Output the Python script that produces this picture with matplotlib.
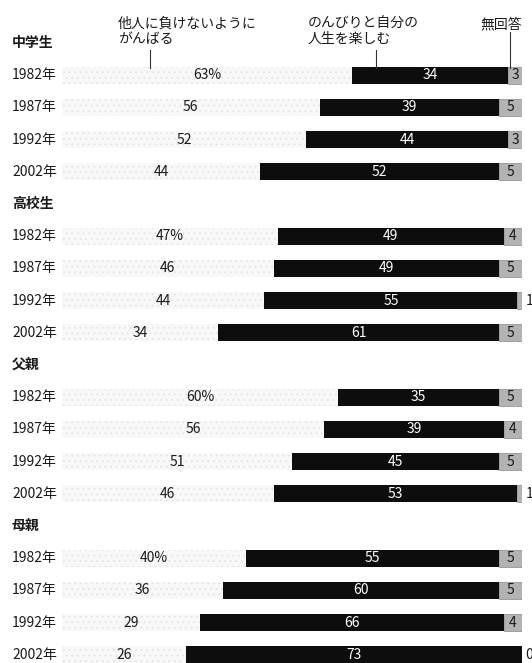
import matplotlib
matplotlib.use("Agg")
import matplotlib.pyplot as plt
import matplotlib.transforms as mtransforms
from matplotlib.lines import Line2D

plt.rcParams['font.family'] = ['Noto Sans CJK JP', 'DejaVu Sans']
plt.rcParams['hatch.linewidth'] = 0.5

groups = ['中学生', '高校生', '父親', '母親']
years = ['1982年', '1987年', '1992年', '2002年']
compete = [[63, 56, 52, 44], [47, 46, 44, 34], [60, 56, 51, 46], [40, 36, 29, 26]]
relax = [[34, 39, 44, 52], [49, 49, 55, 61], [35, 39, 45, 53], [55, 60, 66, 73]]
noans = [[3, 5, 3, 5], [4, 5, 1, 5], [5, 4, 5, 1], [5, 5, 4, 0]]
legend_labels = ['他人に負けないように\nがんばる', 'のんびりと自分の\n人生を楽しむ', '無回答']

W, H = 532, 663
fig = plt.figure(figsize=(W / 100, H / 100), dpi=100)
left_px, right_px = 62, 522
top_row_px, step_px = 43, 32.2
ax = fig.add_axes([left_px / W, 0, (right_px - left_px) / W, 1])
ax.set_xlim(0, 100)
ax.set_ylim((H - top_row_px) / step_px, -top_row_px / step_px)
ax.axis('off')

blend = mtransforms.blended_transform_factory(fig.transFigure, ax.transData)
txt_color = '#1a1a1a'
bar_h = 0.53

for g, gname in enumerate(groups):
    hrow = g * 5
    ax.text(12 / W, hrow, gname, transform=blend, ha='left', va='center',
            fontsize=10, fontweight='bold', color=txt_color)
    for k, yr in enumerate(years):
        row = hrow + 1 + k
        a, b, c = compete[g][k], relax[g][k], noans[g][k]
        ax.text(12 / W, row, yr, transform=blend, ha='left', va='center',
                fontsize=10, color=txt_color)
        wl = 100 - c - b
        ax.barh(row, wl, left=0, height=bar_h, color='#f8f8f8',
                edgecolor='#e2e2e2', hatch='...', linewidth=0)
        ax.barh(row, b, left=wl, height=bar_h, color='#0d0d0d', linewidth=0)
        ax.barh(row, c, left=100 - c, height=bar_h, color='#b3b3b3',
                edgecolor='#888888', linewidth=0.5)
        lab = f'{a}%' if k == 0 else f'{a}'
        ax.text(wl / 2, row, lab, ha='center', va='center', fontsize=10,
                color=txt_color)
        ax.text(wl + b / 2, row, f'{b}', ha='center', va='center',
                fontsize=10, color='white')
        if c >= 3:
            ax.text(100 - c / 2, row, f'{c}', ha='center', va='center',
                    fontsize=10, color=txt_color)
        else:
            ax.text(100 + 0.8, row, f'{c}', ha='left', va='center',
                    fontsize=10, color=txt_color, clip_on=False)

# callout labels
def fx(px):
    return px / W

def fy(py):
    return 1 - py / H

fig.text(fx(118), fy(17), legend_labels[0], ha='left', va='top', fontsize=10,
         color=txt_color, linespacing=1.1)
fig.text(fx(308), fy(17), legend_labels[1], ha='left', va='top', fontsize=10,
         color=txt_color, linespacing=1.1)
fig.text(fx(522), fy(17), legend_labels[2], ha='right', va='top', fontsize=10,
         color=txt_color)
for x, y0, y1 in [(150, 50, 68), (376, 50, 68), (510, 32, 68)]:
    fig.add_artist(Line2D([fx(x), fx(x)], [fy(y0), fy(y1)],
                          transform=fig.transFigure, color='#333333', lw=0.8))

fig.savefig('out.png', dpi=100)
